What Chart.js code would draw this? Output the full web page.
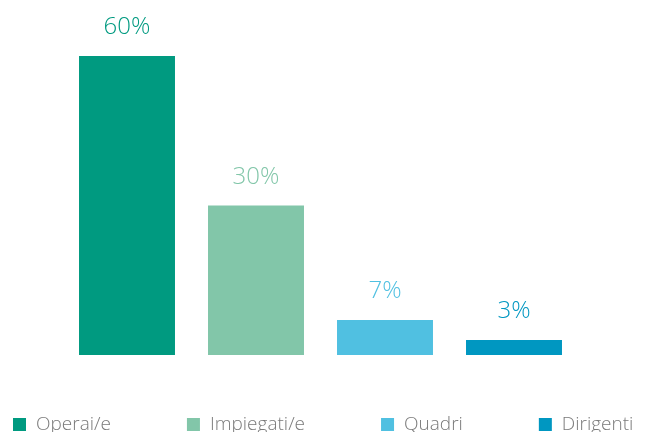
<!DOCTYPE html>
<html>
<head>
<meta charset="utf-8">
<script src="https://cdn.jsdelivr.net/npm/chart.js@4"></script>
<style>
  html, body { margin: 0; padding: 0; background: #ffffff; }
  #wrap { width: 648px; height: 432px; position: relative; }
</style>
</head>
<body>
<div id="wrap"><canvas id="c" width="648" height="432"></canvas></div>
<script>
const categories = ["Operai/e", "Impiegati/e", "Quadri", "Dirigenti"];
const values = [60, 30, 7, 3];
const valueLabels = ["60%", "30%", "7%", "3%"];
const colors = ["#009a80", "#82c6a9", "#50c0e1", "#0097c1"];

const FONT = "'Open Sans', 'Lato', sans-serif";

const valueLabelPlugin = {
  id: 'valueLabels',
  afterDatasetsDraw(chart) {
    const ctx = chart.ctx;
    const meta = chart.getDatasetMeta(0);
    ctx.save();
    ctx.font = "300 24px " + FONT;
    ctx.textAlign = 'center';
    ctx.textBaseline = 'alphabetic';
    meta.data.forEach((bar, i) => {
      ctx.fillStyle = colors[i];
      ctx.fillText(valueLabels[i], bar.x, bar.y - 22);
    });
    ctx.restore();
  }
};

const bottomLegendPlugin = {
  id: 'bottomLegend',
  afterDraw(chart) {
    const ctx = chart.ctx;
    ctx.save();
    ctx.font = "300 19px " + FONT;
    ctx.textBaseline = 'middle';
    ctx.textAlign = 'left';
    const box = 13, textGap = 10, itemGap = 76;
    const yMid = chart.chartArea.bottom + 69.5;
    let x = 13;
    categories.forEach((name, i) => {
      ctx.fillStyle = colors[i];
      ctx.fillRect(x, yMid - box / 2, box, box);
      ctx.fillStyle = '#7a7a7a';
      ctx.fillText(name, x + box + textGap, yMid);
      x += box + textGap + ctx.measureText(name).width + itemGap;
    });
    ctx.restore();
  }
};

new Chart(document.getElementById('c'), {
  type: 'bar',
  data: {
    labels: categories,
    datasets: [{
      data: values,
      backgroundColor: colors,
      borderWidth: 0,
      categoryPercentage: 1.0,
      barPercentage: 0.744
    }]
  },
  options: {
    responsive: false,
    animation: false,
    devicePixelRatio: 1,
    layout: { padding: { top: 56, left: 62.5, right: 69.5, bottom: 77 } },
    plugins: { legend: { display: false }, tooltip: { enabled: false } },
    scales: {
      x: { display: false },
      y: { display: false, min: 0, max: 60 }
    }
  },
  plugins: [valueLabelPlugin, bottomLegendPlugin]
});
</script>
</body>
</html>
